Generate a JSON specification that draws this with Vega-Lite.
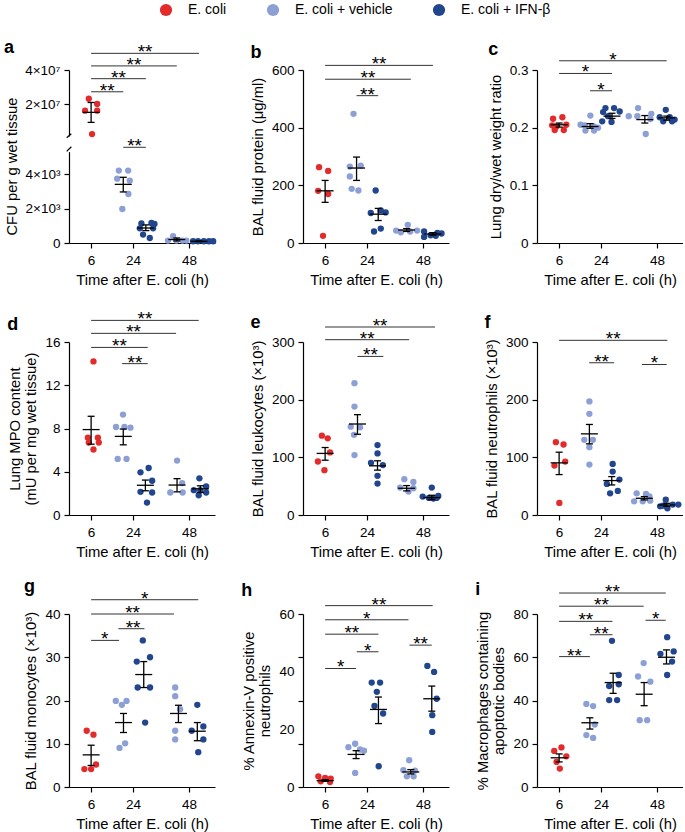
{
"$schema":"https://vega.github.io/schema/vega-lite/v6.json",
"padding":{"left":4,"top":3,"right":0,"bottom":0},
"datasets":{
"pts":[
{"p":"aTop","g":"E. coli","x":5.0,"y":2.31e7},{"p":"aTop","g":"E. coli","x":8.6,"y":2.0e7},{"p":"aTop","g":"E. coli","x":3.4,"y":1.61e7},{"p":"aTop","g":"E. coli","x":8.6,"y":1.61e7},{"p":"aTop","g":"E. coli","x":6.4,"y":2.35e6},
{"p":"aBot","g":"E. coli + vehicle","x":17.9,"y":4200},{"p":"aBot","g":"E. coli + vehicle","x":21.9,"y":4200},{"p":"aBot","g":"E. coli + vehicle","x":17.2,"y":3730},{"p":"aBot","g":"E. coli + vehicle","x":22.6,"y":3620},{"p":"aBot","g":"E. coli + vehicle","x":22.0,"y":2840},{"p":"aBot","g":"E. coli + vehicle","x":19.4,"y":1970},
{"p":"aBot","g":"E. coli + IFN-β","x":27.6,"y":1130},{"p":"aBot","g":"E. coli + IFN-β","x":31.9,"y":1160},{"p":"aBot","g":"E. coli + IFN-β","x":33.2,"y":1100},{"p":"aBot","g":"E. coli + IFN-β","x":26.9,"y":850},{"p":"aBot","g":"E. coli + IFN-β","x":32.6,"y":850},{"p":"aBot","g":"E. coli + IFN-β","x":28.3,"y":490},{"p":"aBot","g":"E. coli + IFN-β","x":31.2,"y":290},
{"p":"aBot","g":"E. coli + vehicle","x":39.0,"y":140},{"p":"aBot","g":"E. coli + vehicle","x":41.2,"y":390},{"p":"aBot","g":"E. coli + vehicle","x":42.6,"y":140},{"p":"aBot","g":"E. coli + vehicle","x":45.2,"y":140},{"p":"aBot","g":"E. coli + vehicle","x":46.9,"y":140},
{"p":"aBot","g":"E. coli + IFN-β","x":49.8,"y":100},{"p":"aBot","g":"E. coli + IFN-β","x":51.9,"y":100},{"p":"aBot","g":"E. coli + IFN-β","x":54.4,"y":100},{"p":"aBot","g":"E. coli + IFN-β","x":56.6,"y":100},{"p":"aBot","g":"E. coli + IFN-β","x":58.4,"y":100},
{"p":"b","g":"E. coli","x":3.4,"y":263},{"p":"b","g":"E. coli","x":7.3,"y":250},{"p":"b","g":"E. coli","x":3.0,"y":181},{"p":"b","g":"E. coli","x":7.3,"y":170},{"p":"b","g":"E. coli","x":5.1,"y":25},
{"p":"b","g":"E. coli + vehicle","x":18.2,"y":448},{"p":"b","g":"E. coli + vehicle","x":16.6,"y":265},{"p":"b","g":"E. coli + vehicle","x":21.3,"y":268},{"p":"b","g":"E. coli + vehicle","x":16.6,"y":231},{"p":"b","g":"E. coli + vehicle","x":17.4,"y":188},{"p":"b","g":"E. coli + vehicle","x":20.3,"y":182},
{"p":"b","g":"E. coli + IFN-β","x":27.7,"y":182},{"p":"b","g":"E. coli + IFN-β","x":25.6,"y":104},{"p":"b","g":"E. coli + IFN-β","x":29.9,"y":113},{"p":"b","g":"E. coli + IFN-β","x":32.0,"y":106},{"p":"b","g":"E. coli + IFN-β","x":27.0,"y":40},{"p":"b","g":"E. coli + IFN-β","x":29.9,"y":50},
{"p":"b","g":"E. coli + vehicle","x":36.5,"y":43},{"p":"b","g":"E. coli + vehicle","x":38.5,"y":37},{"p":"b","g":"E. coli + vehicle","x":41.5,"y":63},{"p":"b","g":"E. coli + vehicle","x":42.5,"y":40},{"p":"b","g":"E. coli + vehicle","x":45.5,"y":43},
{"p":"b","g":"E. coli + IFN-β","x":48.5,"y":40},{"p":"b","g":"E. coli + IFN-β","x":51.3,"y":27},{"p":"b","g":"E. coli + IFN-β","x":54.2,"y":35},{"p":"b","g":"E. coli + IFN-β","x":48.5,"y":21},{"p":"b","g":"E. coli + IFN-β","x":53.5,"y":25},{"p":"b","g":"E. coli + IFN-β","x":56.0,"y":33},
{"p":"c","g":"E. coli","x":3.4,"y":0.2155},{"p":"c","g":"E. coli","x":7.4,"y":0.218},{"p":"c","g":"E. coli","x":3.0,"y":0.204},{"p":"c","g":"E. coli","x":4.9,"y":0.202},{"p":"c","g":"E. coli","x":9.1,"y":0.205},{"p":"c","g":"E. coli","x":4.1,"y":0.196},{"p":"c","g":"E. coli","x":8.0,"y":0.196},
{"p":"c","g":"E. coli + vehicle","x":19.4,"y":0.221},{"p":"c","g":"E. coli + vehicle","x":15.2,"y":0.205},{"p":"c","g":"E. coli + vehicle","x":17.0,"y":0.204},{"p":"c","g":"E. coli + vehicle","x":20.9,"y":0.202},{"p":"c","g":"E. coli + vehicle","x":22.7,"y":0.2},{"p":"c","g":"E. coli + vehicle","x":17.3,"y":0.195},{"p":"c","g":"E. coli + vehicle","x":21.0,"y":0.195},
{"p":"c","g":"E. coli + IFN-β","x":25.9,"y":0.234},{"p":"c","g":"E. coli + IFN-β","x":29.6,"y":0.234},{"p":"c","g":"E. coli + IFN-β","x":24.9,"y":0.227},{"p":"c","g":"E. coli + IFN-β","x":32.0,"y":0.228},{"p":"c","g":"E. coli + IFN-β","x":27.0,"y":0.22},{"p":"c","g":"E. coli + IFN-β","x":24.5,"y":0.211},{"p":"c","g":"E. coli + IFN-β","x":28.5,"y":0.21},
{"p":"c","g":"E. coli + vehicle","x":39.9,"y":0.234},{"p":"c","g":"E. coli + vehicle","x":35.9,"y":0.22},{"p":"c","g":"E. coli + vehicle","x":39.6,"y":0.22},{"p":"c","g":"E. coli + vehicle","x":45.6,"y":0.224},{"p":"c","g":"E. coli + vehicle","x":45.2,"y":0.215},{"p":"c","g":"E. coli + vehicle","x":43.2,"y":0.189},
{"p":"c","g":"E. coli + IFN-β","x":51.8,"y":0.231},{"p":"c","g":"E. coli + IFN-β","x":49.2,"y":0.218},{"p":"c","g":"E. coli + IFN-β","x":53.5,"y":0.218},{"p":"c","g":"E. coli + IFN-β","x":55.6,"y":0.214},{"p":"c","g":"E. coli + IFN-β","x":50.7,"y":0.211},{"p":"c","g":"E. coli + IFN-β","x":54.5,"y":0.211},
{"p":"d","g":"E. coli","x":7.0,"y":14.2},{"p":"d","g":"E. coli","x":4.6,"y":7.15},{"p":"d","g":"E. coli","x":8.9,"y":7.15},{"p":"d","g":"E. coli","x":5.0,"y":6.7},{"p":"d","g":"E. coli","x":9.3,"y":6.7},{"p":"d","g":"E. coli","x":7.0,"y":6.06},
{"p":"d","g":"E. coli + vehicle","x":19.7,"y":9.29},{"p":"d","g":"E. coli + vehicle","x":16.7,"y":8.14},{"p":"d","g":"E. coli + vehicle","x":20.3,"y":8.14},{"p":"d","g":"E. coli + vehicle","x":22.9,"y":8.08},{"p":"d","g":"E. coli + vehicle","x":17.4,"y":5.19},{"p":"d","g":"E. coli + vehicle","x":21.2,"y":5.19},
{"p":"d","g":"E. coli + IFN-β","x":27.2,"y":3.95},{"p":"d","g":"E. coli + IFN-β","x":30.7,"y":4.35},{"p":"d","g":"E. coli + IFN-β","x":32.2,"y":3.17},{"p":"d","g":"E. coli + IFN-β","x":27.2,"y":2.14},{"p":"d","g":"E. coli + IFN-β","x":32.2,"y":2.08},{"p":"d","g":"E. coli + IFN-β","x":30.0,"y":1.15},
{"p":"d","g":"E. coli + vehicle","x":42.9,"y":5.03},{"p":"d","g":"E. coli + vehicle","x":40.0,"y":2.08},{"p":"d","g":"E. coli + vehicle","x":45.1,"y":2.95},{"p":"d","g":"E. coli + vehicle","x":45.3,"y":2.08},
{"p":"d","g":"E. coli + IFN-β","x":52.5,"y":3.39},{"p":"d","g":"E. coli + IFN-β","x":50.1,"y":2.3},{"p":"d","g":"E. coli + IFN-β","x":52.9,"y":2.3},{"p":"d","g":"E. coli + IFN-β","x":55.4,"y":2.64},{"p":"d","g":"E. coli + IFN-β","x":52.2,"y":1.83},{"p":"d","g":"E. coli + IFN-β","x":55.4,"y":2.08},
{"p":"e","g":"E. coli","x":4.6,"y":137.5},{"p":"e","g":"E. coli","x":7.1,"y":132.9},{"p":"e","g":"E. coli","x":8.1,"y":108.5},{"p":"e","g":"E. coli","x":2.9,"y":92.8},{"p":"e","g":"E. coli","x":5.7,"y":77.8},
{"p":"e","g":"E. coli + vehicle","x":18.6,"y":228.6},{"p":"e","g":"E. coli + vehicle","x":18.6,"y":188},{"p":"e","g":"E. coli + vehicle","x":17.0,"y":153.2},{"p":"e","g":"E. coli + vehicle","x":21.0,"y":152},{"p":"e","g":"E. coli + vehicle","x":18.4,"y":139},{"p":"e","g":"E. coli + vehicle","x":18.6,"y":103.9},
{"p":"e","g":"E. coli + IFN-β","x":28.5,"y":121.3},{"p":"e","g":"E. coli + IFN-β","x":28.5,"y":106.8},{"p":"e","g":"E. coli + IFN-β","x":25.7,"y":90.5},{"p":"e","g":"E. coli + IFN-β","x":30.8,"y":86.5},{"p":"e","g":"E. coli + IFN-β","x":28.5,"y":67.9},{"p":"e","g":"E. coli + IFN-β","x":28.5,"y":54.5},
{"p":"e","g":"E. coli + vehicle","x":40.0,"y":62.1},{"p":"e","g":"E. coli + vehicle","x":43.9,"y":57.4},{"p":"e","g":"E. coli + vehicle","x":38.2,"y":47.6},{"p":"e","g":"E. coli + vehicle","x":41.8,"y":40.6},{"p":"e","g":"E. coli + vehicle","x":43.9,"y":46.4},
{"p":"e","g":"E. coli + IFN-β","x":51.8,"y":47.6},{"p":"e","g":"E. coli + IFN-β","x":47.9,"y":31.9},{"p":"e","g":"E. coli + IFN-β","x":50.6,"y":29.6},{"p":"e","g":"E. coli + IFN-β","x":53.9,"y":29.6},{"p":"e","g":"E. coli + IFN-β","x":54.6,"y":33.1},{"p":"e","g":"E. coli + IFN-β","x":52.5,"y":28.4},
{"p":"f","g":"E. coli","x":4.6,"y":126.3},{"p":"f","g":"E. coli","x":7.9,"y":122.2},{"p":"f","g":"E. coli","x":8.6,"y":92.7},{"p":"f","g":"E. coli","x":4.0,"y":85.7},{"p":"f","g":"E. coli","x":6.1,"y":20.9},
{"p":"f","g":"E. coli + vehicle","x":19.0,"y":196.9},{"p":"f","g":"E. coli + vehicle","x":19.0,"y":175.5},{"p":"f","g":"E. coli + vehicle","x":16.8,"y":130.3},{"p":"f","g":"E. coli + vehicle","x":20.5,"y":130.3},{"p":"f","g":"E. coli + vehicle","x":19.0,"y":117.6},{"p":"f","g":"E. coli + vehicle","x":19.0,"y":87.5},
{"p":"f","g":"E. coli + IFN-β","x":29.0,"y":88.6},{"p":"f","g":"E. coli + IFN-β","x":29.0,"y":75.3},{"p":"f","g":"E. coli + IFN-β","x":26.5,"y":53.9},{"p":"f","g":"E. coli + IFN-β","x":31.9,"y":61.4},{"p":"f","g":"E. coli + IFN-β","x":27.9,"y":37.6},{"p":"f","g":"E. coli + IFN-β","x":31.2,"y":41.7},
{"p":"f","g":"E. coli + vehicle","x":39.3,"y":37.6},{"p":"f","g":"E. coli + vehicle","x":43.3,"y":36.5},{"p":"f","g":"E. coli + vehicle","x":38.2,"y":23.7},{"p":"f","g":"E. coli + vehicle","x":41.9,"y":23.7},{"p":"f","g":"E. coli + vehicle","x":45.1,"y":24.9},{"p":"f","g":"E. coli + vehicle","x":44.8,"y":32.4},
{"p":"f","g":"E. coli + IFN-β","x":51.8,"y":26.6},{"p":"f","g":"E. coli + IFN-β","x":49.4,"y":15.1},{"p":"f","g":"E. coli + IFN-β","x":52.5,"y":11.6},{"p":"f","g":"E. coli + IFN-β","x":54.8,"y":18.0},{"p":"f","g":"E. coli + IFN-β","x":57.2,"y":18.0},{"p":"f","g":"E. coli + IFN-β","x":50.6,"y":16.2},
{"p":"g","g":"E. coli","x":4.1,"y":13.0},{"p":"g","g":"E. coli","x":7.0,"y":12.1},{"p":"g","g":"E. coli","x":8.1,"y":5.2},{"p":"g","g":"E. coli","x":3.1,"y":4.14},{"p":"g","g":"E. coli","x":6.0,"y":4.14},
{"p":"g","g":"E. coli + vehicle","x":16.6,"y":19.9},{"p":"g","g":"E. coli + vehicle","x":21.2,"y":19.9},{"p":"g","g":"E. coli + vehicle","x":19.2,"y":19.0},{"p":"g","g":"E. coli + vehicle","x":20.6,"y":10.1},{"p":"g","g":"E. coli + vehicle","x":18.2,"y":9.04},
{"p":"g","g":"E. coli + IFN-β","x":28.2,"y":33.9},{"p":"g","g":"E. coli + IFN-β","x":25.6,"y":29.0},{"p":"g","g":"E. coli + IFN-β","x":31.3,"y":30.0},{"p":"g","g":"E. coli + IFN-β","x":26.0,"y":23.0},{"p":"g","g":"E. coli + IFN-β","x":31.3,"y":23.0},{"p":"g","g":"E. coli + IFN-β","x":29.2,"y":14.9},
{"p":"g","g":"E. coli + vehicle","x":42.1,"y":23.0},{"p":"g","g":"E. coli + vehicle","x":42.1,"y":21.0},{"p":"g","g":"E. coli + vehicle","x":44.2,"y":18.0},{"p":"g","g":"E. coli + vehicle","x":42.1,"y":13.0},{"p":"g","g":"E. coli + vehicle","x":42.1,"y":11.0},
{"p":"g","g":"E. coli + IFN-β","x":51.6,"y":19.0},{"p":"g","g":"E. coli + IFN-β","x":49.2,"y":13.0},{"p":"g","g":"E. coli + IFN-β","x":54.2,"y":14.0},{"p":"g","g":"E. coli + IFN-β","x":54.2,"y":11.0},{"p":"g","g":"E. coli + IFN-β","x":52.0,"y":8.05},
{"p":"h","g":"E. coli","x":3.1,"y":3.71},{"p":"h","g":"E. coli","x":6.0,"y":3.13},{"p":"h","g":"E. coli","x":8.4,"y":2.9},{"p":"h","g":"E. coli","x":4.1,"y":1.97},{"p":"h","g":"E. coli","x":8.1,"y":1.74},
{"p":"h","g":"E. coli + vehicle","x":16.0,"y":13.8},{"p":"h","g":"E. coli + vehicle","x":18.9,"y":15.0},{"p":"h","g":"E. coli + vehicle","x":21.0,"y":13.0},{"p":"h","g":"E. coli + vehicle","x":22.7,"y":12.6},{"p":"h","g":"E. coli + vehicle","x":18.9,"y":4.87},
{"p":"h","g":"E. coli + IFN-β","x":26.0,"y":36.2},{"p":"h","g":"E. coli + IFN-β","x":29.6,"y":36.2},{"p":"h","g":"E. coli + IFN-β","x":28.2,"y":33.0},{"p":"h","g":"E. coli + IFN-β","x":27.2,"y":28.1},{"p":"h","g":"E. coli + IFN-β","x":30.9,"y":25.5},{"p":"h","g":"E. coli + IFN-β","x":29.0,"y":7.2},
{"p":"h","g":"E. coli + vehicle","x":42.1,"y":9.28},{"p":"h","g":"E. coli + vehicle","x":39.6,"y":5.8},{"p":"h","g":"E. coli + vehicle","x":44.6,"y":5.69},{"p":"h","g":"E. coli + vehicle","x":41.1,"y":3.71},{"p":"h","g":"E. coli + vehicle","x":44.0,"y":3.71},
{"p":"h","g":"E. coli + IFN-β","x":49.9,"y":42.0},{"p":"h","g":"E. coli + IFN-β","x":52.8,"y":39.9},{"p":"h","g":"E. coli + IFN-β","x":53.9,"y":30.6},{"p":"h","g":"E. coli + IFN-β","x":52.0,"y":24.9},{"p":"h","g":"E. coli + IFN-β","x":52.0,"y":19.1},
{"p":"i","g":"E. coli","x":3.9,"y":16.7},{"p":"i","g":"E. coli","x":7.0,"y":18.3},{"p":"i","g":"E. coli","x":9.1,"y":14.2},{"p":"i","g":"E. coli","x":4.9,"y":11.6},{"p":"i","g":"E. coli","x":6.3,"y":8.5},
{"p":"i","g":"E. coli + vehicle","x":17.7,"y":38.4},{"p":"i","g":"E. coli + vehicle","x":20.6,"y":37.4},{"p":"i","g":"E. coli + vehicle","x":17.7,"y":24.0},{"p":"i","g":"E. coli + vehicle","x":21.3,"y":28.9},{"p":"i","g":"E. coli + vehicle","x":20.6,"y":22.7},
{"p":"i","g":"E. coli + IFN-β","x":28.7,"y":67.6},{"p":"i","g":"E. coli + IFN-β","x":31.6,"y":51.8},{"p":"i","g":"E. coli + IFN-β","x":27.5,"y":46.7},{"p":"i","g":"E. coli + IFN-β","x":31.6,"y":47.5},{"p":"i","g":"E. coli + IFN-β","x":27.5,"y":40.2},{"p":"i","g":"E. coli + IFN-β","x":30.9,"y":40.2},
{"p":"i","g":"E. coli + vehicle","x":42.3,"y":57.3},{"p":"i","g":"E. coli + vehicle","x":39.9,"y":51.1},{"p":"i","g":"E. coli + vehicle","x":45.2,"y":48.7},{"p":"i","g":"E. coli + vehicle","x":40.6,"y":30.9},{"p":"i","g":"E. coli + vehicle","x":43.8,"y":30.9},
{"p":"i","g":"E. coli + IFN-β","x":52.4,"y":69.3},{"p":"i","g":"E. coli + IFN-β","x":49.5,"y":61.6},{"p":"i","g":"E. coli + IFN-β","x":55.2,"y":62.7},{"p":"i","g":"E. coli + IFN-β","x":54.5,"y":58.0},{"p":"i","g":"E. coli + IFN-β","x":52.4,"y":51.8}
],
"st":[
{"p":"aTop","x":6,"m":1.51e7,"lo":0.92e7,"hi":2.09e7},
{"p":"aBot","x":19.8,"m":3400,"lo":2960,"hi":3810},{"p":"aBot","x":29.5,"m":870,"lo":720,"hi":1050},{"p":"aBot","x":42.8,"m":200,"lo":120,"hi":290},{"p":"aBot","x":52.3,"m":100,"lo":80,"hi":120},
{"p":"b","x":6,"m":181,"lo":141,"hi":217},{"p":"b","x":19.5,"m":260,"lo":217,"hi":298},{"p":"b","x":28.8,"m":100,"lo":78,"hi":120},{"p":"b","x":41,"m":45,"lo":40,"hi":50},{"p":"b","x":52.3,"m":31,"lo":27,"hi":36},
{"p":"c","x":6,"m":0.205,"lo":0.201,"hi":0.208},{"p":"c","x":19.3,"m":0.202,"lo":0.199,"hi":0.207},{"p":"c","x":28.7,"m":0.22,"lo":0.216,"hi":0.225},{"p":"c","x":42.8,"m":0.214,"lo":0.208,"hi":0.221},{"p":"c","x":52.2,"m":0.217,"lo":0.213,"hi":0.22},
{"p":"d","x":6,"m":7.9,"lo":6.55,"hi":9.13},{"p":"d","x":19.8,"m":7.27,"lo":6.49,"hi":7.95},{"p":"d","x":29.3,"m":2.75,"lo":2.24,"hi":3.23},{"p":"d","x":42.9,"m":2.77,"lo":2.14,"hi":3.36},{"p":"d","x":52.9,"m":2.42,"lo":2.08,"hi":2.7},
{"p":"e","x":6,"m":106.8,"lo":95,"hi":117},{"p":"e","x":19.9,"m":157.8,"lo":140,"hi":174},{"p":"e","x":28.5,"m":85.3,"lo":77.8,"hi":94},{"p":"e","x":41,"m":46.4,"lo":41.8,"hi":51},{"p":"e","x":51.8,"m":30.2,"lo":26.7,"hi":34.2},
{"p":"f","x":6,"m":90.4,"lo":70.1,"hi":108.9},{"p":"f","x":19.0,"m":140.7,"lo":123.4,"hi":157},{"p":"f","x":28.6,"m":59.7,"lo":52.1,"hi":66.6},{"p":"f","x":42.6,"m":29.0,"lo":26.1,"hi":31.9},{"p":"f","x":52.2,"m":17.4,"lo":15.1,"hi":20.3},
{"p":"g","x":6,"m":7.43,"lo":4.98,"hi":9.66},{"p":"g","x":19.9,"m":14.9,"lo":12.6,"hi":17.0},{"p":"g","x":28.6,"m":26.0,"lo":23.0,"hi":29.0},{"p":"g","x":43.5,"m":17.0,"lo":14.9,"hi":18.9},{"p":"g","x":51.6,"m":12.9,"lo":10.7,"hi":14.9},
{"p":"h","x":6,"m":2.2,"lo":1.97,"hi":2.55},{"p":"h","x":19.3,"m":11.3,"lo":9.86,"hi":12.6},{"p":"h","x":28.9,"m":26.9,"lo":22.0,"hi":31.2},{"p":"h","x":42.8,"m":5.22,"lo":4.53,"hi":6.03},{"p":"h","x":51.8,"m":30.6,"lo":26.3,"hi":35.0},
{"p":"i","x":6,"m":13.5,"lo":11.6,"hi":15.3},{"p":"i","x":19.2,"m":29.7,"lo":26.8,"hi":32.0},{"p":"i","x":29.2,"m":48.3,"lo":43.3,"hi":52.6},{"p":"i","x":42.5,"m":42.9,"lo":37.6,"hi":48.3},{"p":"i","x":52.1,"m":60.0,"lo":56.9,"hi":63.4}
],
"sg":[
{"p":"aTop","x1":6,"x2":52.3,"xm":29.15,"y":4.98e7,"s":"**"},{"p":"aTop","x1":6,"x2":42.8,"xm":24.4,"y":4.24e7,"s":"**"},{"p":"aTop","x1":6,"x2":29.5,"xm":17.75,"y":3.49e7,"s":"**"},{"p":"aTop","x1":6,"x2":19.8,"xm":12.9,"y":2.72e7,"s":"**"},
{"p":"aBot","x1":19.8,"x2":29.5,"xm":24.65,"y":5550,"s":"**"},
{"p":"b","x1":6,"x2":52.3,"xm":29.15,"y":616,"s":"**"},{"p":"b","x1":6,"x2":42.8,"xm":24.4,"y":568,"s":"**"},{"p":"b","x1":19.5,"x2":28.8,"xm":24.15,"y":511,"s":"**"},
{"p":"c","x1":6,"x2":52.2,"xm":29.1,"y":0.316,"s":"*"},{"p":"c","x1":6,"x2":28.7,"xm":17.35,"y":0.294,"s":"*"},{"p":"c","x1":19.3,"x2":28.7,"xm":24.0,"y":0.264,"s":"*"},
{"p":"d","x1":6,"x2":52.2,"xm":29.1,"y":18.0,"s":"**"},{"p":"d","x1":6,"x2":42.5,"xm":24.25,"y":16.8,"s":"**"},{"p":"d","x1":6,"x2":30.3,"xm":18.15,"y":15.5,"s":"**"},{"p":"d","x1":19.3,"x2":30.3,"xm":24.8,"y":14.0,"s":"**"},
{"p":"e","x1":6,"x2":53.2,"xm":29.6,"y":326,"s":"**"},{"p":"e","x1":6,"x2":42.1,"xm":24.05,"y":304,"s":"**"},{"p":"e","x1":19.9,"x2":31.0,"xm":25.45,"y":275,"s":"**"},
{"p":"f","x1":6,"x2":52.5,"xm":29.25,"y":302.9,"s":"**"},{"p":"f","x1":18.9,"x2":29.6,"xm":24.25,"y":264,"s":"**"},{"p":"f","x1":41.6,"x2":52.2,"xm":46.9,"y":261,"s":"*"},
{"p":"g","x1":6,"x2":52.0,"xm":29.0,"y":43.3,"s":"*"},{"p":"g","x1":6,"x2":41.6,"xm":23.8,"y":40.0,"s":"**"},{"p":"g","x1":17.7,"x2":28.9,"xm":24.0,"y":36.6,"s":"**"},{"p":"g","x1":6,"x2":18.0,"xm":11.8,"y":33.9,"s":"*"},
{"p":"h","x1":6,"x2":52.2,"xm":29.1,"y":62.9,"s":"**"},{"p":"h","x1":6,"x2":41.8,"xm":23.9,"y":58.0,"s":"*"},{"p":"h","x1":6,"x2":28.9,"xm":17.45,"y":53.0,"s":"**"},{"p":"h","x1":19.6,"x2":28.9,"xm":24.25,"y":46.9,"s":"*"},{"p":"h","x1":42.2,"x2":51.8,"xm":47.0,"y":49.2,"s":"**"},{"p":"h","x1":6,"x2":19.3,"xm":12.65,"y":41.1,"s":"*"},
{"p":"i","x1":6,"x2":51.8,"xm":28.9,"y":89.7,"s":"**"},{"p":"i","x1":6,"x2":42.3,"xm":24.15,"y":83.6,"s":"**"},{"p":"i","x1":6,"x2":28.9,"xm":17.45,"y":76.6,"s":"**"},{"p":"i","x1":19.2,"x2":28.9,"xm":24.05,"y":70.4,"s":"**"},{"p":"i","x1":43.1,"x2":51.8,"xm":47.45,"y":77.1,"s":"*"},{"p":"i","x1":6,"x2":19.2,"xm":12.6,"y":60.3,"s":"**"}
],
"brk":[
{"p":"aTop","x1":-4.5,"x2":-2.5,"y1":2e5,"y2":2.5e6},
{"p":"aBot","x1":-4.5,"x2":-2.5,"y1":5310,"y2":5580}
]
},
"columns":3,
"spacing":{"row":99,"column":88},
"bounds":"flush",
"resolve":{"scale":{"color":"shared"},"legend":{"color":"shared"}},
"concat":[
{"width":146,"height":173,
 "title":{"text":"a","anchor":"start","frame":"bounds","offset":-14,"fontSize":18,"fontWeight":"bold"},
 "resolve":{"scale":{"y":"independent"},"axis":{"y":"independent"}},
 "layer":[
  {"layer":[
   {"data":{"name":"pts"},"transform":[{"filter":"datum.p=='aTop'"}],"mark":{"type":"circle","size":40,"opacity":1},
    "encoding":{"x":{"field":"x","type":"quantitative","scale":{"domain":[-3.5,59.2],"nice":false,"zero":false},"axis":{"values":[6,24,48],"title":"Time after E. coli (h)"}},
     "y":{"field":"y","type":"quantitative","scale":{"domain":[1200000,40000000],"range":[66,0],"nice":false,"zero":false},"axis":{"values":[20000000,40000000],"labelExpr":"datum.value < 30000000 ? '2×10⁷' : '4×10⁷'","title":null,"orient":"left"}},
     "color":{"field":"g","type":"nominal","scale":{"domain":["E. coli","E. coli + vehicle","E. coli + IFN-β"],"range":["#e32b2b","#8da0d5","#22468d"]},"legend":{"orient":"none","legendX":90,"legendY":-67,"direction":"horizontal","title":null,"symbolType":"circle","symbolSize":150,"symbolStrokeWidth":0,"labelFontSize":14,"labelOffset":15,"columnPadding":39,"gridAlign":"none","padding":0}}}},
   {"data":{"name":"st"},"transform":[{"filter":"datum.p=='aTop'"}],"mark":{"type":"rule","color":"black","strokeWidth":1.3},"encoding":{"x":{"field":"x","type":"quantitative"},"y":{"field":"lo","type":"quantitative"},"y2":{"field":"hi"}}},
   {"data":{"name":"st"},"transform":[{"filter":"datum.p=='aTop'"}],"mark":{"type":"tick","orient":"horizontal","size":17,"thickness":1.3,"color":"black","opacity":1},"encoding":{"x":{"field":"x","type":"quantitative"},"y":{"field":"m","type":"quantitative"}}},
   {"data":{"name":"st"},"transform":[{"filter":"datum.p=='aTop'"},{"fold":["lo","hi"],"as":["k","v"]}],"mark":{"type":"tick","orient":"horizontal","size":7,"thickness":1.3,"color":"black","opacity":1},"encoding":{"x":{"field":"x","type":"quantitative"},"y":{"field":"v","type":"quantitative"}}},
   {"data":{"name":"sg"},"transform":[{"filter":"datum.p=='aTop'"}],"mark":{"type":"rule","color":"#333","strokeWidth":1},"encoding":{"x":{"field":"x1","type":"quantitative"},"x2":{"field":"x2"},"y":{"field":"y","type":"quantitative"}}},
   {"data":{"name":"sg"},"transform":[{"filter":"datum.p=='aTop'"}],"mark":{"type":"text","fontSize":19,"baseline":"alphabetic","dy":5,"color":"black"},"encoding":{"x":{"field":"xm","type":"quantitative"},"y":{"field":"y","type":"quantitative"},"text":{"field":"s"}}},
   {"data":{"name":"brk"},"transform":[{"filter":"datum.p=='aTop'"}],"mark":{"type":"rule","color":"black","strokeWidth":1.2},"encoding":{"x":{"field":"x1","type":"quantitative"},"x2":{"field":"x2"},"y":{"field":"y1","type":"quantitative"},"y2":{"field":"y2"}}}
  ]},
  {"layer":[
   {"data":{"name":"pts"},"transform":[{"filter":"datum.p=='aBot'"}],"mark":{"type":"circle","size":40,"opacity":1},
    "encoding":{"x":{"field":"x","type":"quantitative","scale":{"domain":[-3.5,59.2],"nice":false,"zero":false},"axis":{"values":[6,24,48],"title":"Time after E. coli (h)"}},
     "y":{"field":"y","type":"quantitative","scale":{"domain":[0,5300],"range":[173,81.6],"nice":false,"zero":false},"axis":{"values":[0,2000,4000],"labelExpr":"datum.value == 0 ? '0' : datum.value < 3000 ? '2×10³' : '4×10³'","title":"CFU per g wet tissue","titleY":96,"orient":"left"}},
     "color":{"field":"g","type":"nominal","scale":{"domain":["E. coli","E. coli + vehicle","E. coli + IFN-β"],"range":["#e32b2b","#8da0d5","#22468d"]},"legend":{"orient":"none","legendX":90,"legendY":-67,"direction":"horizontal","title":null,"symbolType":"circle","symbolSize":150,"symbolStrokeWidth":0,"labelFontSize":14,"labelOffset":15,"columnPadding":39,"gridAlign":"none","padding":0}}}},
   {"data":{"name":"st"},"transform":[{"filter":"datum.p=='aBot'"}],"mark":{"type":"rule","color":"black","strokeWidth":1.3},"encoding":{"x":{"field":"x","type":"quantitative"},"y":{"field":"lo","type":"quantitative"},"y2":{"field":"hi"}}},
   {"data":{"name":"st"},"transform":[{"filter":"datum.p=='aBot'"}],"mark":{"type":"tick","orient":"horizontal","size":17,"thickness":1.3,"color":"black","opacity":1},"encoding":{"x":{"field":"x","type":"quantitative"},"y":{"field":"m","type":"quantitative"}}},
   {"data":{"name":"st"},"transform":[{"filter":"datum.p=='aBot'"},{"fold":["lo","hi"],"as":["k","v"]}],"mark":{"type":"tick","orient":"horizontal","size":7,"thickness":1.3,"color":"black","opacity":1},"encoding":{"x":{"field":"x","type":"quantitative"},"y":{"field":"v","type":"quantitative"}}},
   {"data":{"name":"sg"},"transform":[{"filter":"datum.p=='aBot'"}],"mark":{"type":"rule","color":"#333","strokeWidth":1},"encoding":{"x":{"field":"x1","type":"quantitative"},"x2":{"field":"x2"},"y":{"field":"y","type":"quantitative"}}},
   {"data":{"name":"sg"},"transform":[{"filter":"datum.p=='aBot'"}],"mark":{"type":"text","fontSize":19,"baseline":"alphabetic","dy":5,"color":"black"},"encoding":{"x":{"field":"xm","type":"quantitative"},"y":{"field":"y","type":"quantitative"},"text":{"field":"s"}}},
   {"data":{"name":"brk"},"transform":[{"filter":"datum.p=='aBot'"}],"mark":{"type":"rule","color":"black","strokeWidth":1.2},"encoding":{"x":{"field":"x1","type":"quantitative"},"x2":{"field":"x2"},"y":{"field":"y1","type":"quantitative"},"y2":{"field":"y2"}}}
  ]}
 ]},
{"width":146,"height":173,
 "title":{"text":"b","anchor":"start","frame":"bounds","offset":-7,"fontSize":18,"fontWeight":"bold"},
 "layer":[
  {"data":{"name":"pts"},"transform":[{"filter":"datum.p=='b'"}],"mark":{"type":"circle","size":40,"opacity":1},
   "encoding":{"x":{"field":"x","type":"quantitative","scale":{"domain":[-3.5,59.2],"nice":false,"zero":false},"axis":{"values":[6,24,48],"title":"Time after E. coli (h)"}},
    "y":{"field":"y","type":"quantitative","scale":{"domain":[0,600],"nice":false,"zero":false},"axis":{"values":[0,200,400,600],"title":"BAL fluid protein (μg/ml)"}},
    "color":{"field":"g","type":"nominal","scale":{"domain":["E. coli","E. coli + vehicle","E. coli + IFN-β"],"range":["#e32b2b","#8da0d5","#22468d"]},"legend":{"orient":"none","legendX":90,"legendY":-67,"direction":"horizontal","title":null,"symbolType":"circle","symbolSize":150,"symbolStrokeWidth":0,"labelFontSize":14,"labelOffset":15,"columnPadding":39,"gridAlign":"none","padding":0}}}},
  {"data":{"name":"st"},"transform":[{"filter":"datum.p=='b'"}],"mark":{"type":"rule","color":"black","strokeWidth":1.3},"encoding":{"x":{"field":"x","type":"quantitative"},"y":{"field":"lo","type":"quantitative"},"y2":{"field":"hi"}}},
  {"data":{"name":"st"},"transform":[{"filter":"datum.p=='b'"}],"mark":{"type":"tick","orient":"horizontal","size":17,"thickness":1.3,"color":"black","opacity":1},"encoding":{"x":{"field":"x","type":"quantitative"},"y":{"field":"m","type":"quantitative"}}},
  {"data":{"name":"st"},"transform":[{"filter":"datum.p=='b'"},{"fold":["lo","hi"],"as":["k","v"]}],"mark":{"type":"tick","orient":"horizontal","size":7,"thickness":1.3,"color":"black","opacity":1},"encoding":{"x":{"field":"x","type":"quantitative"},"y":{"field":"v","type":"quantitative"}}},
  {"data":{"name":"sg"},"transform":[{"filter":"datum.p=='b'"}],"mark":{"type":"rule","color":"#333","strokeWidth":1},"encoding":{"x":{"field":"x1","type":"quantitative"},"x2":{"field":"x2"},"y":{"field":"y","type":"quantitative"}}},
  {"data":{"name":"sg"},"transform":[{"filter":"datum.p=='b'"}],"mark":{"type":"text","fontSize":19,"baseline":"alphabetic","dy":5,"color":"black"},"encoding":{"x":{"field":"xm","type":"quantitative"},"y":{"field":"y","type":"quantitative"},"text":{"field":"s"}}}
 ]},
{"width":146,"height":173,
 "title":{"text":"c","anchor":"start","frame":"bounds","offset":-8,"fontSize":18,"fontWeight":"bold"},
 "layer":[
  {"data":{"name":"pts"},"transform":[{"filter":"datum.p=='c'"}],"mark":{"type":"circle","size":40,"opacity":1},
   "encoding":{"x":{"field":"x","type":"quantitative","scale":{"domain":[-3.5,59.2],"nice":false,"zero":false},"axis":{"values":[6,24,48],"title":"Time after E. coli (h)"}},
    "y":{"field":"y","type":"quantitative","scale":{"domain":[0,0.3],"nice":false,"zero":false},"axis":{"values":[0,0.1,0.2,0.3],"format":"~g","title":"Lung dry/wet weight ratio"}},
    "color":{"field":"g","type":"nominal","scale":{"domain":["E. coli","E. coli + vehicle","E. coli + IFN-β"],"range":["#e32b2b","#8da0d5","#22468d"]},"legend":{"orient":"none","legendX":90,"legendY":-67,"direction":"horizontal","title":null,"symbolType":"circle","symbolSize":150,"symbolStrokeWidth":0,"labelFontSize":14,"labelOffset":15,"columnPadding":39,"gridAlign":"none","padding":0}}}},
  {"data":{"name":"st"},"transform":[{"filter":"datum.p=='c'"}],"mark":{"type":"rule","color":"black","strokeWidth":1.3},"encoding":{"x":{"field":"x","type":"quantitative"},"y":{"field":"lo","type":"quantitative"},"y2":{"field":"hi"}}},
  {"data":{"name":"st"},"transform":[{"filter":"datum.p=='c'"}],"mark":{"type":"tick","orient":"horizontal","size":17,"thickness":1.3,"color":"black","opacity":1},"encoding":{"x":{"field":"x","type":"quantitative"},"y":{"field":"m","type":"quantitative"}}},
  {"data":{"name":"st"},"transform":[{"filter":"datum.p=='c'"},{"fold":["lo","hi"],"as":["k","v"]}],"mark":{"type":"tick","orient":"horizontal","size":7,"thickness":1.3,"color":"black","opacity":1},"encoding":{"x":{"field":"x","type":"quantitative"},"y":{"field":"v","type":"quantitative"}}},
  {"data":{"name":"sg"},"transform":[{"filter":"datum.p=='c'"}],"mark":{"type":"rule","color":"#333","strokeWidth":1},"encoding":{"x":{"field":"x1","type":"quantitative"},"x2":{"field":"x2"},"y":{"field":"y","type":"quantitative"}}},
  {"data":{"name":"sg"},"transform":[{"filter":"datum.p=='c'"}],"mark":{"type":"text","fontSize":19,"baseline":"alphabetic","dy":5,"color":"black"},"encoding":{"x":{"field":"xm","type":"quantitative"},"y":{"field":"y","type":"quantitative"},"text":{"field":"s"}}}
 ]},
{"width":146,"height":173,
 "title":{"text":"d","anchor":"start","frame":"bounds","offset":-24,"fontSize":18,"fontWeight":"bold"},
 "layer":[
  {"data":{"name":"pts"},"transform":[{"filter":"datum.p=='d'"}],"mark":{"type":"circle","size":40,"opacity":1},
   "encoding":{"x":{"field":"x","type":"quantitative","scale":{"domain":[-3.5,59.2],"nice":false,"zero":false},"axis":{"values":[6,24,48],"title":"Time after E. coli (h)"}},
    "y":{"field":"y","type":"quantitative","scale":{"domain":[0,16],"nice":false,"zero":false},"axis":{"values":[0,4,8,12,16],"title":["Lung MPO content","(mU per mg wet tissue)"]}},
    "color":{"field":"g","type":"nominal","scale":{"domain":["E. coli","E. coli + vehicle","E. coli + IFN-β"],"range":["#e32b2b","#8da0d5","#22468d"]},"legend":{"orient":"none","legendX":90,"legendY":-67,"direction":"horizontal","title":null,"symbolType":"circle","symbolSize":150,"symbolStrokeWidth":0,"labelFontSize":14,"labelOffset":15,"columnPadding":39,"gridAlign":"none","padding":0}}}},
  {"data":{"name":"st"},"transform":[{"filter":"datum.p=='d'"}],"mark":{"type":"rule","color":"black","strokeWidth":1.3},"encoding":{"x":{"field":"x","type":"quantitative"},"y":{"field":"lo","type":"quantitative"},"y2":{"field":"hi"}}},
  {"data":{"name":"st"},"transform":[{"filter":"datum.p=='d'"}],"mark":{"type":"tick","orient":"horizontal","size":17,"thickness":1.3,"color":"black","opacity":1},"encoding":{"x":{"field":"x","type":"quantitative"},"y":{"field":"m","type":"quantitative"}}},
  {"data":{"name":"st"},"transform":[{"filter":"datum.p=='d'"},{"fold":["lo","hi"],"as":["k","v"]}],"mark":{"type":"tick","orient":"horizontal","size":7,"thickness":1.3,"color":"black","opacity":1},"encoding":{"x":{"field":"x","type":"quantitative"},"y":{"field":"v","type":"quantitative"}}},
  {"data":{"name":"sg"},"transform":[{"filter":"datum.p=='d'"}],"mark":{"type":"rule","color":"#333","strokeWidth":1},"encoding":{"x":{"field":"x1","type":"quantitative"},"x2":{"field":"x2"},"y":{"field":"y","type":"quantitative"}}},
  {"data":{"name":"sg"},"transform":[{"filter":"datum.p=='d'"}],"mark":{"type":"text","fontSize":19,"baseline":"alphabetic","dy":5,"color":"black"},"encoding":{"x":{"field":"xm","type":"quantitative"},"y":{"field":"y","type":"quantitative"},"text":{"field":"s"}}}
 ]},
{"width":146,"height":173,
 "title":{"text":"e","anchor":"start","frame":"bounds","offset":-15,"fontSize":18,"fontWeight":"bold"},
 "layer":[
  {"data":{"name":"pts"},"transform":[{"filter":"datum.p=='e'"}],"mark":{"type":"circle","size":40,"opacity":1},
   "encoding":{"x":{"field":"x","type":"quantitative","scale":{"domain":[-3.5,59.2],"nice":false,"zero":false},"axis":{"values":[6,24,48],"title":"Time after E. coli (h)"}},
    "y":{"field":"y","type":"quantitative","scale":{"domain":[0,300],"nice":false,"zero":false},"axis":{"values":[0,100,200,300],"title":"BAL fluid leukocytes (×10³)"}},
    "color":{"field":"g","type":"nominal","scale":{"domain":["E. coli","E. coli + vehicle","E. coli + IFN-β"],"range":["#e32b2b","#8da0d5","#22468d"]},"legend":{"orient":"none","legendX":90,"legendY":-67,"direction":"horizontal","title":null,"symbolType":"circle","symbolSize":150,"symbolStrokeWidth":0,"labelFontSize":14,"labelOffset":15,"columnPadding":39,"gridAlign":"none","padding":0}}}},
  {"data":{"name":"st"},"transform":[{"filter":"datum.p=='e'"}],"mark":{"type":"rule","color":"black","strokeWidth":1.3},"encoding":{"x":{"field":"x","type":"quantitative"},"y":{"field":"lo","type":"quantitative"},"y2":{"field":"hi"}}},
  {"data":{"name":"st"},"transform":[{"filter":"datum.p=='e'"}],"mark":{"type":"tick","orient":"horizontal","size":17,"thickness":1.3,"color":"black","opacity":1},"encoding":{"x":{"field":"x","type":"quantitative"},"y":{"field":"m","type":"quantitative"}}},
  {"data":{"name":"st"},"transform":[{"filter":"datum.p=='e'"},{"fold":["lo","hi"],"as":["k","v"]}],"mark":{"type":"tick","orient":"horizontal","size":7,"thickness":1.3,"color":"black","opacity":1},"encoding":{"x":{"field":"x","type":"quantitative"},"y":{"field":"v","type":"quantitative"}}},
  {"data":{"name":"sg"},"transform":[{"filter":"datum.p=='e'"}],"mark":{"type":"rule","color":"#333","strokeWidth":1},"encoding":{"x":{"field":"x1","type":"quantitative"},"x2":{"field":"x2"},"y":{"field":"y","type":"quantitative"}}},
  {"data":{"name":"sg"},"transform":[{"filter":"datum.p=='e'"}],"mark":{"type":"text","fontSize":19,"baseline":"alphabetic","dy":5,"color":"black"},"encoding":{"x":{"field":"xm","type":"quantitative"},"y":{"field":"y","type":"quantitative"},"text":{"field":"s"}}}
 ]},
{"width":146,"height":173,
 "title":{"text":"f","anchor":"start","frame":"bounds","offset":-2,"fontSize":18,"fontWeight":"bold"},
 "layer":[
  {"data":{"name":"pts"},"transform":[{"filter":"datum.p=='f'"}],"mark":{"type":"circle","size":40,"opacity":1},
   "encoding":{"x":{"field":"x","type":"quantitative","scale":{"domain":[-3.5,59.2],"nice":false,"zero":false},"axis":{"values":[6,24,48],"title":"Time after E. coli (h)"}},
    "y":{"field":"y","type":"quantitative","scale":{"domain":[0,300],"nice":false,"zero":false},"axis":{"values":[0,100,200,300],"title":"BAL fluid neutrophils (×10³)"}},
    "color":{"field":"g","type":"nominal","scale":{"domain":["E. coli","E. coli + vehicle","E. coli + IFN-β"],"range":["#e32b2b","#8da0d5","#22468d"]},"legend":{"orient":"none","legendX":90,"legendY":-67,"direction":"horizontal","title":null,"symbolType":"circle","symbolSize":150,"symbolStrokeWidth":0,"labelFontSize":14,"labelOffset":15,"columnPadding":39,"gridAlign":"none","padding":0}}}},
  {"data":{"name":"st"},"transform":[{"filter":"datum.p=='f'"}],"mark":{"type":"rule","color":"black","strokeWidth":1.3},"encoding":{"x":{"field":"x","type":"quantitative"},"y":{"field":"lo","type":"quantitative"},"y2":{"field":"hi"}}},
  {"data":{"name":"st"},"transform":[{"filter":"datum.p=='f'"}],"mark":{"type":"tick","orient":"horizontal","size":17,"thickness":1.3,"color":"black","opacity":1},"encoding":{"x":{"field":"x","type":"quantitative"},"y":{"field":"m","type":"quantitative"}}},
  {"data":{"name":"st"},"transform":[{"filter":"datum.p=='f'"},{"fold":["lo","hi"],"as":["k","v"]}],"mark":{"type":"tick","orient":"horizontal","size":7,"thickness":1.3,"color":"black","opacity":1},"encoding":{"x":{"field":"x","type":"quantitative"},"y":{"field":"v","type":"quantitative"}}},
  {"data":{"name":"sg"},"transform":[{"filter":"datum.p=='f'"}],"mark":{"type":"rule","color":"#333","strokeWidth":1},"encoding":{"x":{"field":"x1","type":"quantitative"},"x2":{"field":"x2"},"y":{"field":"y","type":"quantitative"}}},
  {"data":{"name":"sg"},"transform":[{"filter":"datum.p=='f'"}],"mark":{"type":"text","fontSize":19,"baseline":"alphabetic","dy":5,"color":"black"},"encoding":{"x":{"field":"xm","type":"quantitative"},"y":{"field":"y","type":"quantitative"},"text":{"field":"s"}}}
 ]},
{"width":146,"height":173,
 "title":{"text":"g","anchor":"start","frame":"bounds","offset":-6,"fontSize":18,"fontWeight":"bold"},
 "layer":[
  {"data":{"name":"pts"},"transform":[{"filter":"datum.p=='g'"}],"mark":{"type":"circle","size":40,"opacity":1},
   "encoding":{"x":{"field":"x","type":"quantitative","scale":{"domain":[-3.5,59.2],"nice":false,"zero":false},"axis":{"values":[6,24,48],"title":"Time after E. coli (h)"}},
    "y":{"field":"y","type":"quantitative","scale":{"domain":[0,40],"nice":false,"zero":false},"axis":{"values":[0,10,20,30,40],"title":"BAL fluid monocytes (×10³)"}},
    "color":{"field":"g","type":"nominal","scale":{"domain":["E. coli","E. coli + vehicle","E. coli + IFN-β"],"range":["#e32b2b","#8da0d5","#22468d"]},"legend":{"orient":"none","legendX":90,"legendY":-67,"direction":"horizontal","title":null,"symbolType":"circle","symbolSize":150,"symbolStrokeWidth":0,"labelFontSize":14,"labelOffset":15,"columnPadding":39,"gridAlign":"none","padding":0}}}},
  {"data":{"name":"st"},"transform":[{"filter":"datum.p=='g'"}],"mark":{"type":"rule","color":"black","strokeWidth":1.3},"encoding":{"x":{"field":"x","type":"quantitative"},"y":{"field":"lo","type":"quantitative"},"y2":{"field":"hi"}}},
  {"data":{"name":"st"},"transform":[{"filter":"datum.p=='g'"}],"mark":{"type":"tick","orient":"horizontal","size":17,"thickness":1.3,"color":"black","opacity":1},"encoding":{"x":{"field":"x","type":"quantitative"},"y":{"field":"m","type":"quantitative"}}},
  {"data":{"name":"st"},"transform":[{"filter":"datum.p=='g'"},{"fold":["lo","hi"],"as":["k","v"]}],"mark":{"type":"tick","orient":"horizontal","size":7,"thickness":1.3,"color":"black","opacity":1},"encoding":{"x":{"field":"x","type":"quantitative"},"y":{"field":"v","type":"quantitative"}}},
  {"data":{"name":"sg"},"transform":[{"filter":"datum.p=='g'"}],"mark":{"type":"rule","color":"#333","strokeWidth":1},"encoding":{"x":{"field":"x1","type":"quantitative"},"x2":{"field":"x2"},"y":{"field":"y","type":"quantitative"}}},
  {"data":{"name":"sg"},"transform":[{"filter":"datum.p=='g'"}],"mark":{"type":"text","fontSize":19,"baseline":"alphabetic","dy":5,"color":"black"},"encoding":{"x":{"field":"xm","type":"quantitative"},"y":{"field":"y","type":"quantitative"},"text":{"field":"s"}}}
 ]},
{"width":146,"height":173,
 "title":{"text":"h","anchor":"start","frame":"bounds","offset":-4,"fontSize":18,"fontWeight":"bold"},
 "resolve":{"axis":{"y":"independent"}},
 "layer":[
  {"layer":[
   {"data":{"name":"pts"},"transform":[{"filter":"datum.p=='h'"}],"mark":{"type":"circle","size":40,"opacity":1},
    "encoding":{"x":{"field":"x","type":"quantitative","scale":{"domain":[-3.5,59.2],"nice":false,"zero":false},"axis":{"values":[6,24,48],"title":"Time after E. coli (h)"}},
     "y":{"field":"y","type":"quantitative","scale":{"domain":[0,60],"nice":false,"zero":false},"axis":{"values":[0,15,30,45,60],"labels":false,"title":null}},
     "color":{"field":"g","type":"nominal","scale":{"domain":["E. coli","E. coli + vehicle","E. coli + IFN-β"],"range":["#e32b2b","#8da0d5","#22468d"]},"legend":{"orient":"none","legendX":90,"legendY":-67,"direction":"horizontal","title":null,"symbolType":"circle","symbolSize":150,"symbolStrokeWidth":0,"labelFontSize":14,"labelOffset":15,"columnPadding":39,"gridAlign":"none","padding":0}}}},
   {"data":{"name":"st"},"transform":[{"filter":"datum.p=='h'"}],"mark":{"type":"rule","color":"black","strokeWidth":1.3},"encoding":{"x":{"field":"x","type":"quantitative"},"y":{"field":"lo","type":"quantitative"},"y2":{"field":"hi"}}},
   {"data":{"name":"st"},"transform":[{"filter":"datum.p=='h'"}],"mark":{"type":"tick","orient":"horizontal","size":17,"thickness":1.3,"color":"black","opacity":1},"encoding":{"x":{"field":"x","type":"quantitative"},"y":{"field":"m","type":"quantitative"}}},
   {"data":{"name":"st"},"transform":[{"filter":"datum.p=='h'"},{"fold":["lo","hi"],"as":["k","v"]}],"mark":{"type":"tick","orient":"horizontal","size":7,"thickness":1.3,"color":"black","opacity":1},"encoding":{"x":{"field":"x","type":"quantitative"},"y":{"field":"v","type":"quantitative"}}},
   {"data":{"name":"sg"},"transform":[{"filter":"datum.p=='h'"}],"mark":{"type":"rule","color":"#333","strokeWidth":1},"encoding":{"x":{"field":"x1","type":"quantitative"},"x2":{"field":"x2"},"y":{"field":"y","type":"quantitative"}}}
  ]},
  {"data":{"name":"sg"},"transform":[{"filter":"datum.p=='h'"}],"mark":{"type":"text","fontSize":19,"baseline":"alphabetic","dy":5,"color":"black"},
   "encoding":{"x":{"field":"xm","type":"quantitative"},"y":{"field":"y","type":"quantitative","axis":{"values":[0,20,40,60],"orient":"left","domain":false,"tickOpacity":0,"title":["% Annexin-V positive","neutrophils"]}},"text":{"field":"s"}}}
 ]},
{"width":146,"height":173,
 "title":{"text":"i","anchor":"start","frame":"bounds","offset":-16,"fontSize":18,"fontWeight":"bold"},
 "layer":[
  {"data":{"name":"pts"},"transform":[{"filter":"datum.p=='i'"}],"mark":{"type":"circle","size":40,"opacity":1},
   "encoding":{"x":{"field":"x","type":"quantitative","scale":{"domain":[-3.5,59.2],"nice":false,"zero":false},"axis":{"values":[6,24,48],"title":"Time after E. coli (h)"}},
    "y":{"field":"y","type":"quantitative","scale":{"domain":[0,80],"nice":false,"zero":false},"axis":{"values":[0,20,40,60,80],"title":["% Macrophages containing","apoptotic bodies"]}},
    "color":{"field":"g","type":"nominal","scale":{"domain":["E. coli","E. coli + vehicle","E. coli + IFN-β"],"range":["#e32b2b","#8da0d5","#22468d"]},"legend":{"orient":"none","legendX":90,"legendY":-67,"direction":"horizontal","title":null,"symbolType":"circle","symbolSize":150,"symbolStrokeWidth":0,"labelFontSize":14,"labelOffset":15,"columnPadding":39,"gridAlign":"none","padding":0}}}},
  {"data":{"name":"st"},"transform":[{"filter":"datum.p=='i'"}],"mark":{"type":"rule","color":"black","strokeWidth":1.3},"encoding":{"x":{"field":"x","type":"quantitative"},"y":{"field":"lo","type":"quantitative"},"y2":{"field":"hi"}}},
  {"data":{"name":"st"},"transform":[{"filter":"datum.p=='i'"}],"mark":{"type":"tick","orient":"horizontal","size":17,"thickness":1.3,"color":"black","opacity":1},"encoding":{"x":{"field":"x","type":"quantitative"},"y":{"field":"m","type":"quantitative"}}},
  {"data":{"name":"st"},"transform":[{"filter":"datum.p=='i'"},{"fold":["lo","hi"],"as":["k","v"]}],"mark":{"type":"tick","orient":"horizontal","size":7,"thickness":1.3,"color":"black","opacity":1},"encoding":{"x":{"field":"x","type":"quantitative"},"y":{"field":"v","type":"quantitative"}}},
  {"data":{"name":"sg"},"transform":[{"filter":"datum.p=='i'"}],"mark":{"type":"rule","color":"#333","strokeWidth":1},"encoding":{"x":{"field":"x1","type":"quantitative"},"x2":{"field":"x2"},"y":{"field":"y","type":"quantitative"}}},
  {"data":{"name":"sg"},"transform":[{"filter":"datum.p=='i'"}],"mark":{"type":"text","fontSize":19,"baseline":"alphabetic","dy":5,"color":"black"},"encoding":{"x":{"field":"xm","type":"quantitative"},"y":{"field":"y","type":"quantitative"},"text":{"field":"s"}}}
 ]}
],
"config":{
 "font":"Liberation Sans",
 "view":{"stroke":null},
 "axis":{"grid":false,"domainColor":"black","tickColor":"black","labelColor":"black","titleColor":"black","labelFontSize":13.5,"titleFontSize":14.8,"titleFontWeight":"normal","tickSize":5,"domainWidth":1.2,"tickWidth":1.2,"labelFont":"Liberation Sans","titleFont":"Liberation Sans"},
 "axisX":{"labelPadding":5,"titlePadding":6,"labelAngle":0,"labelFlush":false},
 "axisY":{"labelPadding":4,"titlePadding":6},
 "title":{"font":"Liberation Sans","color":"black"},
 "legend":{"labelFont":"Liberation Sans","labelColor":"black","labelFontSize":14,"labelOffset":15,"columnPadding":39,"symbolSize":150,"gridAlign":"none","padding":0},
 "text":{"font":"Liberation Sans"}
}
}
